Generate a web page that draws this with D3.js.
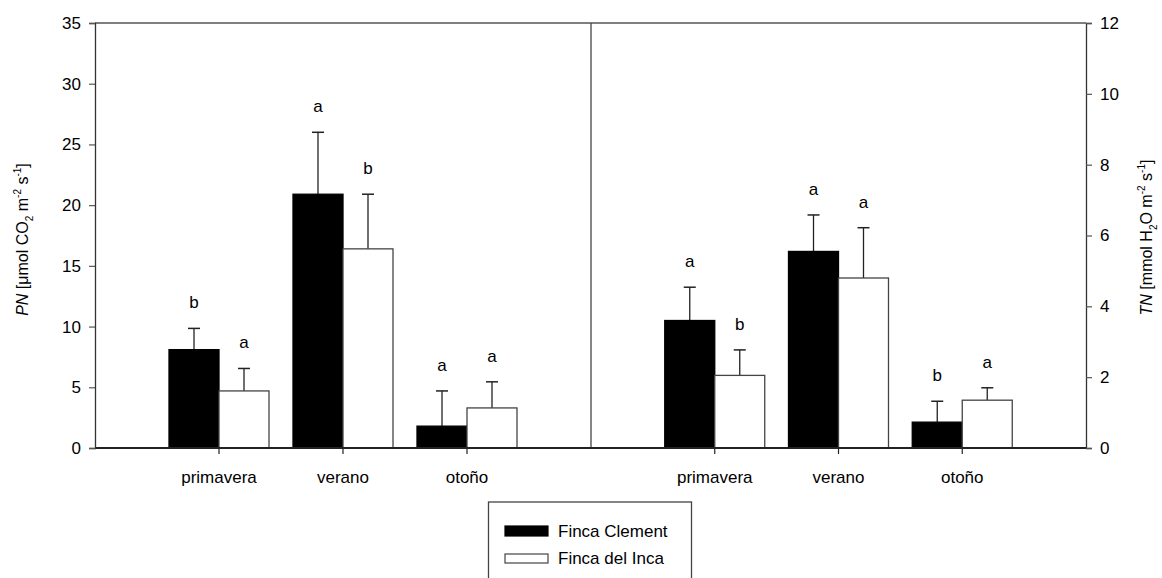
<!DOCTYPE html>
<html>
<head>
<meta charset="utf-8">
<script src="https://cdn.jsdelivr.net/npm/d3@7"></script>
<style>
  body { margin: 0; background: #fff; }
  svg text { font-family: "Liberation Sans", Arial, sans-serif; fill: #000; }
</style>
</head>
<body>
<div id="chart"></div>
<script>
// seasons on the x axis
var categories = ['primavera', 'verano', 'otoño'];
var seriesNames = ['Finca Clement', 'Finca del Inca'];

// net photosynthesis PN (left panel)
var pnClement    = [8.1, 20.9, 1.8];
var pnClementErr = [1.75, 5.1, 2.9];
var pnInca       = [4.7, 16.4, 3.3];
var pnIncaErr    = [1.85, 4.5, 2.15];
var pnClementLet = ['b', 'a', 'a'];
var pnIncaLet    = ['a', 'b', 'a'];

// transpiration TN (right panel)
var tnClement    = [3.6, 5.55, 0.73];
var tnClementErr = [0.94, 1.03, 0.59];
var tnInca       = [2.05, 4.8, 1.35];
var tnIncaErr    = [0.72, 1.42, 0.35];
var tnClementLet = ['a', 'a', 'b'];
var tnIncaLet    = ['b', 'a', 'a'];

var pnTicks = [0, 5, 10, 15, 20, 25, 30, 35];
var tnTicks = [0, 2, 4, 6, 8, 10, 12];

var width = 1162, height = 578;
var plotLeft = 95, plotMid = 591, plotRight = 1086, plotTop = 23, plotBottom = 448;
var fontSize = 17;

var svg = d3.select('#chart').append('svg')
    .attr('width', width)
    .attr('height', height);

var yPN = d3.scaleLinear().domain([0, 35]).range([plotBottom, plotTop]);
var yTN = d3.scaleLinear().domain([0, 12]).range([plotBottom, plotTop]);
var xL = d3.scaleLinear().domain([0, 4]).range([plotLeft, plotMid]);
var xR = d3.scaleLinear().domain([0, 4]).range([plotMid, plotRight]);

var barW = 50, capW = 12;

function drawPanel(x, y, clem, clemErr, inca, incaErr, clemLet, incaLet) {
    var g = svg.append('g');
    var rows = [];
    categories.forEach(function (c, i) {
        rows.push({ cat: c, pos: i + 1, v: clem[i], e: clemErr[i], l: clemLet[i], s: 0 });
        rows.push({ cat: c, pos: i + 1, v: inca[i], e: incaErr[i], l: incaLet[i], s: 1 });
    });
    function cx(d) { return x(d.pos) + (d.s === 0 ? -barW / 2 : barW / 2); }

    // error bars first so the bar outline sits on top
    var eb = g.selectAll('.err').data(rows).enter().append('g').attr('class', 'err');
    eb.append('line')
        .attr('x1', cx).attr('x2', cx)
        .attr('y1', function (d) { return y(d.v); })
        .attr('y2', function (d) { return y(d.v + d.e); })
        .attr('stroke', '#222').attr('stroke-width', 1.3);
    eb.append('line')
        .attr('x1', function (d) { return cx(d) - capW / 2; })
        .attr('x2', function (d) { return cx(d) + capW / 2; })
        .attr('y1', function (d) { return y(d.v + d.e); })
        .attr('y2', function (d) { return y(d.v + d.e); })
        .attr('stroke', '#222').attr('stroke-width', 1.5);

    g.selectAll('rect.bar').data(rows).enter().append('rect')
        .attr('class', 'bar')
        .attr('x', function (d) { return x(d.pos) + (d.s === 0 ? -barW : 0); })
        .attr('y', function (d) { return y(d.v); })
        .attr('width', barW)
        .attr('height', function (d) { return y(0) - y(d.v); })
        .attr('fill', function (d) { return d.s === 0 ? '#000' : '#fff'; })
        .attr('stroke', function (d) { return d.s === 0 ? '#000' : '#444'; })
        .attr('stroke-width', 1.3);

    g.selectAll('text.let').data(rows).enter().append('text')
        .attr('class', 'let')
        .attr('x', cx)
        .attr('y', function (d) { return y(d.v + d.e) - 20; })
        .attr('text-anchor', 'middle')
        .style('font-size', fontSize + 'px')
        .text(function (d) { return d.l; });

    // category ticks and labels
    var cats = g.selectAll('.cat').data(categories).enter().append('g').attr('class', 'cat');
    cats.append('line')
        .attr('x1', function (d, i) { return x(i + 1); })
        .attr('x2', function (d, i) { return x(i + 1); })
        .attr('y1', plotBottom).attr('y2', plotBottom + 6)
        .attr('stroke', '#222').attr('stroke-width', 1.2);
    cats.append('text')
        .attr('x', function (d, i) { return x(i + 1); })
        .attr('y', plotBottom + 35)
        .attr('text-anchor', 'middle')
        .style('font-size', fontSize + 'px')
        .text(function (d) { return d; });
}

drawPanel(xL, yPN, pnClement, pnClementErr, pnInca, pnIncaErr, pnClementLet, pnIncaLet);
drawPanel(xR, yTN, tnClement, tnClementErr, tnInca, tnIncaErr, tnClementLet, tnIncaLet);

// frame: top, middle divider, baseline
svg.append('line').attr('x1', plotLeft).attr('x2', plotRight).attr('y1', plotTop).attr('y2', plotTop)
    .attr('stroke', '#555').attr('stroke-width', 1.3);
svg.append('line').attr('x1', plotMid).attr('x2', plotMid).attr('y1', plotTop).attr('y2', plotBottom)
    .attr('stroke', '#444').attr('stroke-width', 1.3);
svg.append('line').attr('x1', plotLeft).attr('x2', plotRight).attr('y1', plotBottom).attr('y2', plotBottom)
    .attr('stroke', '#222').attr('stroke-width', 2);

// left and right axes
var axL = svg.append('g')
    .attr('transform', 'translate(' + plotLeft + ',0)')
    .call(d3.axisLeft(yPN).tickValues(pnTicks).tickSize(6).tickPadding(8));
var axR = svg.append('g')
    .attr('transform', 'translate(' + plotRight + ',0)')
    .call(d3.axisRight(yTN).tickValues(tnTicks).tickSize(6).tickPadding(8));
[axL, axR].forEach(function (ax) {
    ax.select('.domain').attr('stroke', '#333').attr('stroke-width', 1.3);
    ax.selectAll('.tick line').attr('stroke', '#555').attr('stroke-width', 1.2);
    ax.selectAll('.tick text')
        .style('font-family', '"Liberation Sans", Arial, sans-serif')
        .style('font-size', fontSize + 'px')
        .attr('fill', '#000');
});

// axis titles
var tL = svg.append('text')
    .attr('transform', 'translate(28,' + ((plotTop + plotBottom) / 2 + 4) + ') rotate(-90)')
    .attr('text-anchor', 'middle')
    .style('font-size', '16px');
tL.append('tspan').style('font-style', 'italic').text('PN');
tL.append('tspan').text(' [μmol CO');
tL.append('tspan').attr('dy', 5).style('font-size', '10px').text('2');
tL.append('tspan').attr('dy', -5).text(' m');
tL.append('tspan').attr('dy', -7).style('font-size', '10px').text('-2');
tL.append('tspan').attr('dy', 7).text(' s');
tL.append('tspan').attr('dy', -7).style('font-size', '10px').text('-1');
tL.append('tspan').attr('dy', 7).text(']');

var tR = svg.append('text')
    .attr('transform', 'translate(1152,' + ((plotTop + plotBottom) / 2 + 2) + ') rotate(-90)')
    .attr('text-anchor', 'middle')
    .style('font-size', '16px');
tR.append('tspan').style('font-style', 'italic').text('TN');
tR.append('tspan').text(' [mmol H');
tR.append('tspan').attr('dy', 5).style('font-size', '10px').text('2');
tR.append('tspan').attr('dy', -5).text('O m');
tR.append('tspan').attr('dy', -7).style('font-size', '10px').text('-2');
tR.append('tspan').attr('dy', 7).text(' s');
tR.append('tspan').attr('dy', -7).style('font-size', '10px').text('-1');
tR.append('tspan').attr('dy', 7).text(']');

// legend
var lg = svg.append('g');
lg.append('rect')
    .attr('x', 488.5).attr('y', 502)
    .attr('width', 203).attr('height', 90)
    .attr('fill', '#fff').attr('stroke', '#444').attr('stroke-width', 1.3);
var items = lg.selectAll('.item').data(seriesNames).enter().append('g').attr('class', 'item');
items.append('rect')
    .attr('x', 505)
    .attr('y', function (d, i) { return i === 0 ? 526 : 554; })
    .attr('width', 43)
    .attr('height', function (d, i) { return i === 0 ? 10 : 9; })
    .attr('fill', function (d, i) { return i === 0 ? '#000' : '#fff'; })
    .attr('stroke', function (d, i) { return i === 0 ? '#000' : '#444'; })
    .attr('stroke-width', 1.2);
items.append('text')
    .attr('x', 558)
    .attr('y', function (d, i) { return i === 0 ? 537 : 564; })
    .style('font-size', fontSize + 'px')
    .text(function (d) { return d; });
</script>
</body>
</html>
